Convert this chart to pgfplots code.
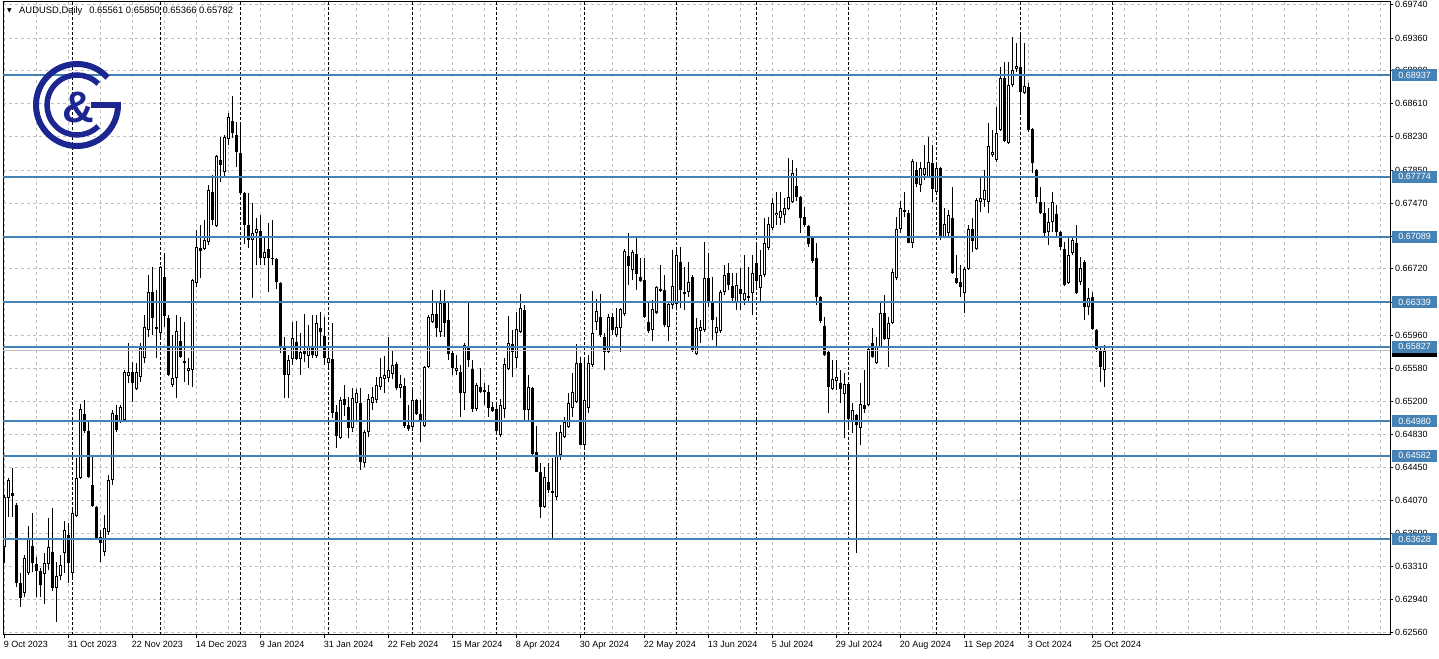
\documentclass[border=0pt]{standalone}
\usepackage{fontspec}
\setmainfont{Liberation Sans}
\newfontfamily\dejavu{DejaVu Sans}
\usepackage{pgfplots}
\pgfplotsset{compat=1.18}
\usepackage{pgfplotstable}
\definecolor{steel}{RGB}{70,130,180}
\definecolor{logo}{RGB}{28,38,145}
\definecolor{gridc}{RGB}{192,192,192}

\pgfplotstableread{
i o h l c
0 0.6354 0.6413 0.6336 0.6411
1 0.6410 0.6433 0.6388 0.6430
2 0.6416 0.6444 0.6388 0.6412
3 0.6402 0.6404 0.6308 0.6313
4 0.6313 0.6324 0.6285 0.6295
5 0.6301 0.6345 0.6297 0.6341
6 0.6324 0.6378 0.6322 0.6364
7 0.6355 0.6393 0.6325 0.6336
8 0.6334 0.6342 0.6297 0.6326
9 0.6326 0.6330 0.6297 0.6310
10 0.6323 0.6347 0.6289 0.6336
11 0.6334 0.6387 0.6327 0.6354
12 0.6348 0.6398 0.6303 0.6307
13 0.6307 0.6337 0.6268 0.6321
14 0.6321 0.6345 0.6316 0.6333
15 0.6347 0.6384 0.6324 0.6373
16 0.6368 0.6381 0.6313 0.6336
17 0.6324 0.6400 0.6316 0.6393
18 0.6389 0.6456 0.6388 0.6433
19 0.6433 0.6517 0.6432 0.6512
20 0.6506 0.6522 0.6484 0.6487
21 0.6487 0.6497 0.6433 0.6434
22 0.6425 0.6457 0.6400 0.6401
23 0.6400 0.6401 0.6362 0.6363
24 0.6365 0.6373 0.6337 0.6358
25 0.6348 0.6390 0.6343 0.6375
26 0.6371 0.6436 0.6368 0.6430
27 0.6430 0.6511 0.6425 0.6507
28 0.6505 0.6516 0.6485 0.6488
29 0.6497 0.6516 0.6496 0.6514
30 0.6499 0.6556 0.6497 0.6554
31 0.6549 0.6587 0.6541 0.6554
32 0.6554 0.6565 0.6520 0.6541
33 0.6535 0.6564 0.6533 0.6554
34 0.6548 0.6587 0.6543 0.6581
35 0.6570 0.6619 0.6564 0.6605
36 0.6602 0.6665 0.6594 0.6645
37 0.6645 0.6674 0.6596 0.6616
38 0.6605 0.6648 0.6570 0.6603
39 0.6599 0.6675 0.6594 0.6674
40 0.6663 0.6690 0.6605 0.6618
41 0.6616 0.6619 0.6549 0.6551
42 0.6539 0.6596 0.6537 0.6547
43 0.6547 0.6619 0.6524 0.6601
44 0.6589 0.6617 0.6570 0.6571
45 0.6564 0.6611 0.6543 0.6566
46 0.6555 0.6570 0.6539 0.6559
47 0.6556 0.6660 0.6537 0.6659
48 0.6656 0.6716 0.6651 0.6697
49 0.6696 0.6722 0.6661 0.6692
50 0.6695 0.6728 0.6693 0.6705
51 0.6703 0.6768 0.6699 0.6762
52 0.6760 0.6779 0.6722 0.6728
53 0.6721 0.6802 0.6720 0.6801
54 0.6797 0.6823 0.6771 0.6791
55 0.6783 0.6825 0.6777 0.6823
56 0.6821 0.6850 0.6814 0.6846
57 0.6841 0.6870 0.6822 0.6827
58 0.6825 0.6840 0.6789 0.6806
59 0.6805 0.6840 0.6756 0.6759
60 0.6759 0.6760 0.6700 0.6722
61 0.6722 0.6759 0.6696 0.6705
62 0.6705 0.6747 0.6639 0.6713
63 0.6713 0.6730 0.6676 0.6718
64 0.6715 0.6734 0.6676 0.6684
65 0.6684 0.6708 0.6676 0.6691
66 0.6695 0.6724 0.6645 0.6684
67 0.6684 0.6728 0.6676 0.6683
68 0.6683 0.6684 0.6649 0.6657
69 0.6656 0.6657 0.6576 0.6581
70 0.6581 0.6594 0.6524 0.6551
71 0.6551 0.6573 0.6524 0.6568
72 0.6569 0.6611 0.6562 0.6593
73 0.6588 0.6612 0.6568 0.6569
74 0.6569 0.6599 0.6551 0.6577
75 0.6578 0.6620 0.6565 0.6575
76 0.6572 0.6608 0.6559 0.6583
77 0.6581 0.6619 0.6570 0.6573
78 0.6572 0.6619 0.6570 0.6610
79 0.6604 0.6623 0.6581 0.6600
80 0.6595 0.6617 0.6562 0.6570
81 0.6564 0.6582 0.6559 0.6570
82 0.6569 0.6610 0.6501 0.6507
83 0.6508 0.6516 0.6467 0.6481
84 0.6478 0.6525 0.6477 0.6522
85 0.6523 0.6539 0.6504 0.6516
86 0.6514 0.6525 0.6478 0.6490
87 0.6490 0.6536 0.6485 0.6524
88 0.6519 0.6535 0.6497 0.6530
89 0.6519 0.6536 0.6442 0.6451
90 0.6450 0.6488 0.6445 0.6485
91 0.6485 0.6529 0.6480 0.6523
92 0.6519 0.6537 0.6510 0.6525
93 0.6522 0.6548 0.6519 0.6539
94 0.6537 0.6570 0.6533 0.6548
95 0.6546 0.6572 0.6530 0.6551
96 0.6547 0.6594 0.6543 0.6556
97 0.6552 0.6579 0.6546 0.6562
98 0.6563 0.6565 0.6533 0.6536
99 0.6536 0.6551 0.6524 0.6540
100 0.6538 0.6547 0.6490 0.6492
101 0.6493 0.6516 0.6487 0.6489
102 0.6491 0.6535 0.6487 0.6522
103 0.6522 0.6523 0.6505 0.6506
104 0.6506 0.6522 0.6474 0.6497
105 0.6492 0.6561 0.6491 0.6560
106 0.6560 0.6619 0.6559 0.6617
107 0.6611 0.6648 0.6610 0.6620
108 0.6620 0.6634 0.6594 0.6604
109 0.6600 0.6648 0.6594 0.6633
110 0.6633 0.6648 0.6594 0.6610
111 0.6613 0.6634 0.6568 0.6575
112 0.6576 0.6579 0.6551 0.6559
113 0.6555 0.6573 0.6551 0.6559
114 0.6554 0.6562 0.6503 0.6530
115 0.6530 0.6587 0.6510 0.6585
116 0.6584 0.6633 0.6560 0.6568
117 0.6557 0.6568 0.6508 0.6512
118 0.6512 0.6541 0.6509 0.6539
119 0.6537 0.6559 0.6530 0.6531
120 0.6531 0.6541 0.6516 0.6533
121 0.6531 0.6539 0.6503 0.6513
122 0.6514 0.6520 0.6508 0.6509
123 0.6512 0.6516 0.6483 0.6487
124 0.6482 0.6523 0.6480 0.6516
125 0.6512 0.6570 0.6501 0.6563
126 0.6557 0.6618 0.6556 0.6587
127 0.6586 0.6602 0.6548 0.6577
128 0.6570 0.6623 0.6559 0.6603
129 0.6600 0.6643 0.6599 0.6627
130 0.6625 0.6631 0.6498 0.6511
131 0.6511 0.6551 0.6499 0.6537
132 0.6536 0.6537 0.6458 0.6460
133 0.6462 0.6492 0.6439 0.6440
134 0.6440 0.6450 0.6387 0.6400
135 0.6400 0.6445 0.6398 0.6434
136 0.6428 0.6450 0.6416 0.6419
137 0.6418 0.6455 0.6362 0.6416
138 0.6411 0.6485 0.6408 0.6459
139 0.6459 0.6493 0.6453 0.6485
140 0.6480 0.6503 0.6478 0.6497
141 0.6491 0.6530 0.6490 0.6519
142 0.6513 0.6553 0.6503 0.6531
143 0.6520 0.6586 0.6519 0.6564
144 0.6564 0.6571 0.6470 0.6471
145 0.6471 0.6570 0.6465 0.6522
146 0.6513 0.6573 0.6507 0.6564
147 0.6562 0.6647 0.6560 0.6599
148 0.6611 0.6637 0.6602 0.6624
149 0.6617 0.6643 0.6594 0.6596
150 0.6594 0.6599 0.6556 0.6577
151 0.6577 0.6620 0.6576 0.6617
152 0.6617 0.6622 0.6596 0.6602
153 0.6596 0.6627 0.6594 0.6605
154 0.6604 0.6627 0.6577 0.6626
155 0.6620 0.6695 0.6618 0.6692
156 0.6687 0.6713 0.6653 0.6675
157 0.6671 0.6694 0.6659 0.6691
158 0.6689 0.6710 0.6648 0.6666
159 0.6663 0.6684 0.6657 0.6658
160 0.6659 0.6684 0.6616 0.6617
161 0.6611 0.6633 0.6599 0.6601
162 0.6602 0.6636 0.6589 0.6626
163 0.6622 0.6652 0.6620 0.6651
164 0.6649 0.6676 0.6645 0.6647
165 0.6648 0.6665 0.6605 0.6608
166 0.6605 0.6633 0.6589 0.6632
167 0.6631 0.6694 0.6626 0.6652
168 0.6632 0.6696 0.6628 0.6688
169 0.6680 0.6697 0.6627 0.6648
170 0.6643 0.6674 0.6625 0.6645
171 0.6645 0.6680 0.6640 0.6657
172 0.6663 0.6665 0.6577 0.6579
173 0.6575 0.6616 0.6573 0.6604
174 0.6601 0.6613 0.6587 0.6605
175 0.6602 0.6703 0.6600 0.6661
176 0.6661 0.6690 0.6628 0.6634
177 0.6633 0.6663 0.6591 0.6613
178 0.6599 0.6617 0.6583 0.6605
179 0.6601 0.6648 0.6599 0.6645
180 0.6645 0.6676 0.6642 0.6665
181 0.6667 0.6679 0.6648 0.6653
182 0.6652 0.6667 0.6633 0.6639
183 0.6634 0.6667 0.6625 0.6653
184 0.6649 0.6673 0.6625 0.6643
185 0.6636 0.6688 0.6631 0.6644
186 0.6639 0.6674 0.6633 0.6641
187 0.6644 0.6688 0.6619 0.6667
188 0.6679 0.6703 0.6648 0.6658
189 0.6650 0.6694 0.6633 0.6665
190 0.6665 0.6730 0.6663 0.6702
191 0.6696 0.6731 0.6694 0.6723
192 0.6719 0.6753 0.6716 0.6747
193 0.6733 0.6760 0.6722 0.6736
194 0.6730 0.6760 0.6722 0.6738
195 0.6733 0.6753 0.6724 0.6742
196 0.6740 0.6799 0.6739 0.6754
197 0.6748 0.6797 0.6747 0.6782
198 0.6767 0.6787 0.6750 0.6754
199 0.6754 0.6755 0.6713 0.6730
200 0.6731 0.6743 0.6720 0.6722
201 0.6721 0.6722 0.6697 0.6700
202 0.6707 0.6708 0.6679 0.6681
203 0.6684 0.6702 0.6631 0.6640
204 0.6640 0.6641 0.6610 0.6612
205 0.6607 0.6617 0.6572 0.6573
206 0.6577 0.6579 0.6507 0.6537
207 0.6535 0.6568 0.6533 0.6546
208 0.6544 0.6568 0.6533 0.6548
209 0.6541 0.6556 0.6519 0.6535
210 0.6529 0.6553 0.6478 0.6540
211 0.6540 0.6541 0.6488 0.6500
212 0.6498 0.6519 0.6484 0.6510
213 0.6505 0.6506 0.6347 0.6493
214 0.6490 0.6541 0.6470 0.6517
215 0.6516 0.6556 0.6507 0.6512
216 0.6516 0.6583 0.6515 0.6580
217 0.6587 0.6604 0.6570 0.6571
218 0.6564 0.6594 0.6563 0.6583
219 0.6583 0.6634 0.6582 0.6621
220 0.6621 0.6642 0.6591 0.6592
221 0.6592 0.6617 0.6560 0.6610
222 0.6610 0.6672 0.6609 0.6668
223 0.6662 0.6731 0.6659 0.6718
224 0.6718 0.6749 0.6713 0.6742
225 0.6739 0.6760 0.6731 0.6737
226 0.6736 0.6739 0.6701 0.6702
227 0.6702 0.6798 0.6696 0.6795
228 0.6785 0.6794 0.6765 0.6769
229 0.6768 0.6794 0.6760 0.6787
230 0.6779 0.6814 0.6774 0.6787
231 0.6777 0.6823 0.6776 0.6794
232 0.6793 0.6814 0.6748 0.6763
233 0.6760 0.6793 0.6756 0.6787
234 0.6787 0.6789 0.6705 0.6708
235 0.6708 0.6742 0.6707 0.6723
236 0.6713 0.6739 0.6708 0.6734
237 0.6730 0.6765 0.6666 0.6667
238 0.6661 0.6688 0.6655 0.6656
239 0.6657 0.6676 0.6640 0.6651
240 0.6644 0.6674 0.6622 0.6672
241 0.6672 0.6722 0.6671 0.6718
242 0.6718 0.6730 0.6691 0.6704
243 0.6695 0.6753 0.6694 0.6751
244 0.6748 0.6777 0.6737 0.6753
245 0.6751 0.6785 0.6743 0.6762
246 0.6748 0.6839 0.6736 0.6812
247 0.6802 0.6831 0.6800 0.6806
248 0.6797 0.6857 0.6794 0.6827
249 0.6831 0.6903 0.6830 0.6890
250 0.6890 0.6908 0.6817 0.6818
251 0.6816 0.6909 0.6815 0.6882
252 0.6882 0.6937 0.6880 0.6899
253 0.6901 0.6930 0.6897 0.6904
254 0.6903 0.6940 0.6851 0.6874
255 0.6873 0.6930 0.6872 0.6881
256 0.6880 0.6885 0.6828 0.6831
257 0.6832 0.6833 0.6782 0.6793
258 0.6785 0.6786 0.6747 0.6754
259 0.6748 0.6765 0.6735 0.6736
260 0.6736 0.6748 0.6707 0.6713
261 0.6714 0.6742 0.6699 0.6726
262 0.6726 0.6760 0.6714 0.6748
263 0.6735 0.6745 0.6707 0.6714
264 0.6714 0.6715 0.6694 0.6697
265 0.6695 0.6703 0.6652 0.6653
266 0.6656 0.6708 0.6655 0.6688
267 0.6690 0.6708 0.6688 0.6705
268 0.6702 0.6722 0.6643 0.6644
269 0.6657 0.6686 0.6653 0.6673
270 0.6680 0.6682 0.6613 0.6628
271 0.6628 0.6650 0.6619 0.6639
272 0.6640 0.6645 0.6602 0.6603
273 0.6602 0.6603 0.6577 0.6580
274 0.6579 0.6582 0.6543 0.6560
275 0.65561 0.65850 0.65366 0.65782
}\candles

\newcommand\lf{\fontsize{9}{10}\selectfont}

\begin{document}
\begin{tikzpicture}
\useasboundingbox (0pt,0pt) rectangle (1439pt,658pt);
\fill[white] (0pt,0pt) rectangle (1439pt,658pt);
\begin{axis}[
  at={(3pt,23pt)}, anchor=south west,
  scale only axis, width=1387pt, height=633pt,
  xmin=-0.425, xmax=346.3, ymin=0.62531, ymax=0.69772,
  clip=false,
  axis line style={black, line width=1pt},
  tick style={black, line width=1pt},
  tick align=outside, major tick length=3pt, minor tick length=0pt,
  xtick pos=bottom, ytick pos=right, yticklabel pos=right,
  xtick={0,16,...,272},
  minor xtick={8,16,...,344},
  xticklabels={9 Oct 2023,31 Oct 2023,22 Nov 2023,14 Dec 2023,9 Jan 2024,31 Jan 2024,22 Feb 2024,15 Mar 2024,8 Apr 2024,30 Apr 2024,22 May 2024,13 Jun 2024,5 Jul 2024,29 Jul 2024,20 Aug 2024,11 Sep 2024,3 Oct 2024,25 Oct 2024},
  ytick={0.62560,0.62940,0.63310,0.63690,0.64070,0.64450,0.64830,0.65200,0.65580,0.65960,0.66340,0.66720,0.67090,0.67470,0.67850,0.68230,0.68610,0.68990,0.69360,0.69740},
  yticklabels={0.62560,0.62940,0.63310,0.63690,0.64070,0.64450,0.64830,0.65200,0.65580,0.65960,,0.66720,,0.67470,0.67850,0.68230,0.68610,0.68990,0.69360,0.69740},
  yticklabel style={anchor=west, inner sep=0pt, xshift=2pt, font=\lf},
  xticklabel style={anchor=north west, inner sep=0pt, yshift=-3pt, xshift=-1pt, font=\lf},
  grid=both,
  major grid style={gridc, line width=1pt, dash pattern=on 3pt off 3pt},
  minor grid style={gridc, line width=1pt, dash pattern=on 3pt off 3pt},
  candle/.style={only marks, mark=*, mark size=0pt, mark options={draw=none, fill=none}, forget plot},
]
% period separators (month starts)
\pgfplotsinvokeforeach{17,39,59,81,102,123,145,168,188,211,233,254,277}{
  \draw[black, line width=1pt, dash pattern=on 3pt off 2pt] (axis cs:#1,0.62531) -- (axis cs:#1,0.69772);
}
% wicks
\addplot[candle,
  error bars/.cd, y dir=plus, y explicit, error mark=none,
  error bar style={draw=black, line width=1pt}]
  table[x=i, y=l, y error expr={\thisrow{h}-\thisrow{l}}] {\candles};
% bodies
\addplot[candle,
  error bars/.cd, y dir=plus, y explicit, error mark=none,
  error bar style={draw=black, line width=3pt}]
  table[x=i, y expr={min(\thisrow{o},\thisrow{c})}, y error expr={max(abs(\thisrow{c}-\thisrow{o}),0.00012)}] {\candles};
% hollow interior of up candles
\addplot[candle, restrict expr to domain={\thisrow{c}-\thisrow{o}}{0.00026:1},
  error bars/.cd, y dir=plus, y explicit, error mark=none,
  error bar style={draw=white, line width=1pt}]
  table[x=i, y expr={\thisrow{o}+0.000115}, y error expr={\thisrow{c}-\thisrow{o}-0.00023}] {\candles};
% bid line
\addplot[gridc, line width=1pt, forget plot] coordinates {(-0.425,0.65782) (346.3,0.65782)};
% horizontal levels
\pgfplotsinvokeforeach{0.68937,0.67774,0.67089,0.66339,0.65827,0.64980,0.64582,0.63628}{
  \addplot[steel, line width=2pt, forget plot] coordinates {(-0.425,#1) (346.3,#1)};
}
\coordinate (bid) at (axis cs:346.3,0.65782);
\coordinate (l1) at (axis cs:346.3,0.68937);
\coordinate (l2) at (axis cs:346.3,0.67774);
\coordinate (l3) at (axis cs:346.3,0.67089);
\coordinate (l4) at (axis cs:346.3,0.66339);
\coordinate (l5) at (axis cs:346.3,0.65827);
\coordinate (l6) at (axis cs:346.3,0.64980);
\coordinate (l7) at (axis cs:346.3,0.64582);
\coordinate (l8) at (axis cs:346.3,0.63628);
\end{axis}
% price labels on the right axis
\tikzset{plab/.style={anchor=west, minimum width=45pt, minimum height=12pt, inner sep=0pt, font=\lf, text=white}}
\fill[black] ([xshift=2pt,yshift=-6pt]bid) rectangle ([xshift=47pt,yshift=6pt]bid);
\node[plab, fill=steel] at ([xshift=2pt]l1) {0.68937};
\node[plab, fill=steel] at ([xshift=2pt]l2) {0.67774};
\node[plab, fill=steel] at ([xshift=2pt]l3) {0.67089};
\node[plab, fill=steel] at ([xshift=2pt]l4) {0.66339};
\node[plab, fill=steel] at ([xshift=2pt]l5) {0.65827};
\node[plab, fill=steel] at ([xshift=2pt]l6) {0.64980};
\node[plab, fill=steel] at ([xshift=2pt]l7) {0.64582};
\node[plab, fill=steel] at ([xshift=2pt]l8) {0.63628};
% title
\node[anchor=west, inner sep=0pt, font={\dejavu\fontsize{6}{6}\selectfont}] at (7pt,647pt) {▼};
\node[anchor=west, inner sep=0pt, font={\fontsize{9.4}{10}\selectfont}] at (19pt,647pt) {AUDUSD,Daily\hspace{7pt}0.65561 0.65850 0.65366 0.65782};
% logo
\draw[logo, line width=6pt] (77pt,553pt) ++(42:41pt) arc[start angle=42, end angle=360, radius=41pt];
\draw[logo, line width=6pt] (91pt,553pt) -- (121pt,553pt);
\draw[logo, line width=5.5pt] (77pt,553pt) ++(45:30pt) arc[start angle=45, end angle=315, radius=30pt];
\node[logo, inner sep=0pt, font={\fontsize{44}{44}\selectfont\bfseries}] at (78pt,550pt) {\&};
\end{tikzpicture}
\end{document}
